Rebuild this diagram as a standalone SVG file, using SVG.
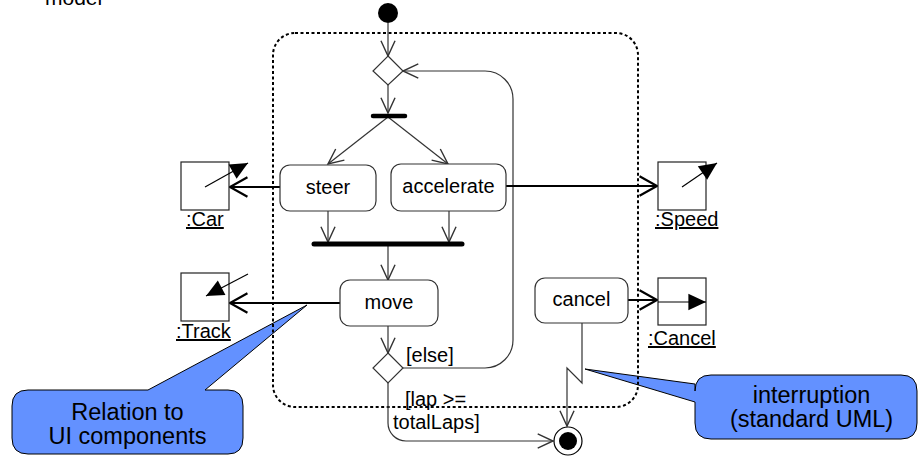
<svg xmlns="http://www.w3.org/2000/svg" width="919" height="456" viewBox="0 0 919 456">
<style>
  text { font-family: "Liberation Sans", Arial, sans-serif; fill: #000; }
  .lbl { font-size: 20px; }
  .ctr { text-anchor: middle; }
  .call { font-size: 23.5px; text-anchor: middle; }
  .action { fill: #fff; stroke: #333; stroke-width: 1.2; }
  .obj { fill: #fff; stroke: #222; stroke-width: 1.2; }
  .flow { fill: none; stroke: #333; stroke-width: 1.2; marker-end: url(#open); }
  .oflow { fill: none; stroke: #000; stroke-width: 2; marker-end: url(#openBig); }
  .inner { fill: none; stroke: #000; stroke-width: 1.2; marker-end: url(#solid); }
  .bar { stroke: #000; stroke-linecap: round; }
  .callout { fill: #6391ff; stroke: #000; stroke-width: 1; }
</style>
<defs>
  <marker id="open" markerUnits="userSpaceOnUse" markerWidth="20" markerHeight="20" viewBox="-15 -8 17 16" refX="0" refY="0" orient="auto">
    <path d="M-13,-6 L0,0 L-13,6" fill="none" stroke="#333" stroke-width="1.2"/>
  </marker>
  <marker id="openBig" markerUnits="userSpaceOnUse" markerWidth="24" markerHeight="24" viewBox="-18 -11 20 22" refX="0" refY="0" orient="auto">
    <path d="M-16,-9 L0,0 L-16,9" fill="none" stroke="#000" stroke-width="2"/>
  </marker>
  <marker id="solid" markerUnits="userSpaceOnUse" markerWidth="20" markerHeight="20" viewBox="-16 -8 17 16" refX="0" refY="0" orient="auto">
    <path d="M-15,-7 L0,0 L-15,7 Z" fill="#000"/>
  </marker>
</defs>

<text class="lbl" x="45" y="5" style="font-size:21px">model</text>

<!-- callouts (drawn under frame) -->
<g id="callout-ui">
  <path class="callout" d="M28,390 L148,390 L307,305 L205,390 L228,390 Q243,390 243,406 L243,438 Q243,454 228,454 L28,454 Q12,454 12,438 L12,406 Q12,390 28,390 Z"/>
  <text class="call" x="127.5" y="420">Relation to</text>
  <text class="call" x="127.5" y="444">UI components</text>
</g>
<g id="callout-int">
  <path class="callout" d="M711,375 L901,375 Q917,375 917,391 L917,423 Q917,439 901,439 L711,439 Q695,439 695,423 L695,402 L585,369 L695,384 L695,391 Q695,375 711,375 Z"/>
  <text class="call" x="811.5" y="403">interruption</text>
  <text class="call" x="811.5" y="427">(standard UML)</text>
</g>

<!-- interruptible region -->
<g id="region">
  <rect x="273" y="33" width="365" height="374" rx="22" fill="none" stroke="#000" stroke-width="2" stroke-dasharray="3 2.5"/>
</g>

<g id="connectors">
  <path class="flow" d="M388,23 L388,56"/>
  <path class="flow" d="M388,85 L388,113"/>
  <path class="flow" d="M388,117 L328,164"/>
  <path class="flow" d="M388,117 L448,164"/>
  <path class="flow" d="M328,211 L328,242"/>
  <path class="flow" d="M449,211 L449,242"/>
  <path class="flow" d="M388,246 L388,280"/>
  <path class="flow" d="M388,326 L388,353"/>
  <path class="flow" d="M403,368 L485,368 A28,28 0 0 0 513,340 L513,99 A28,28 0 0 0 485,71 L403,71"/>
  <path class="flow" d="M388,383 L388,423 A18,18 0 0 0 406,441 L553,441"/>
  <path class="flow" d="M582,323 L582,383 L567,368 L567,426"/>
  <path class="oflow" d="M280,187 L230,187"/>
  <path class="oflow" d="M506,186 L657,186"/>
  <path class="oflow" d="M340,303 L230,303"/>
  <path class="oflow" d="M628,300 L657,300"/>
  <text class="lbl" x="406" y="362">[else]</text>
  <text class="lbl" x="405" y="406">[lap &gt;=</text>
  <text class="lbl" x="393" y="429">totalLaps]</text>
</g>

<g id="start"><circle cx="388" cy="13" r="10" fill="#000"/></g>
<g id="decision1"><path d="M388,56 L403,71 L388,85 L373,71 Z" fill="#fff" stroke="#333" stroke-width="1.2"/></g>
<g id="fork"><line class="bar" x1="373" y1="116" x2="405" y2="116" stroke-width="4.5"/></g>
<g id="steer">
  <rect class="action" x="280" y="165" width="96" height="46" rx="10"/>
  <text class="lbl ctr" x="328" y="194">steer</text>
</g>
<g id="accelerate">
  <rect class="action" x="391" y="164" width="115" height="47" rx="10"/>
  <text class="lbl ctr" x="448.5" y="193">accelerate</text>
</g>
<g id="join"><line class="bar" x1="314" y1="244" x2="462" y2="244" stroke-width="5"/></g>
<g id="move">
  <rect class="action" x="340" y="280" width="98" height="46" rx="10"/>
  <text class="lbl ctr" x="389" y="309">move</text>
</g>
<g id="decision2"><path d="M388,353 L403,368 L388,383 L373,368 Z" fill="#fff" stroke="#333" stroke-width="1.2"/></g>
<g id="cancel">
  <rect class="action" x="535" y="278" width="93" height="45" rx="10"/>
  <text class="lbl ctr" x="581.5" y="306">cancel</text>
</g>
<g id="final">
  <circle cx="568" cy="441" r="14" fill="#fff" stroke="#000" stroke-width="1.2"/>
  <circle cx="568" cy="441" r="9" fill="#000"/>
</g>

<g id="obj-car">
  <rect class="obj" x="181" y="162" width="48" height="48"/>
  <path class="inner" d="M205,187 L248,163"/>
  <text class="lbl" x="186" y="226" text-decoration="underline">:Car</text>
</g>
<g id="obj-speed">
  <rect class="obj" x="658" y="162" width="48" height="48"/>
  <path class="inner" d="M682,187 L717,163"/>
  <text class="lbl" x="655" y="226" text-decoration="underline">:Speed</text>
</g>
<g id="obj-track">
  <rect class="obj" x="181" y="273" width="48" height="48"/>
  <path class="inner" d="M248,274 L206,296"/>
  <text class="lbl" x="176" y="338" text-decoration="underline">:Track</text>
</g>
<g id="obj-cancel">
  <rect class="obj" x="658" y="278" width="48" height="47"/>
  <path class="inner" d="M658,302 L706,302"/>
  <text class="lbl" x="648" y="345" text-decoration="underline">:Cancel</text>
</g>
</svg>
